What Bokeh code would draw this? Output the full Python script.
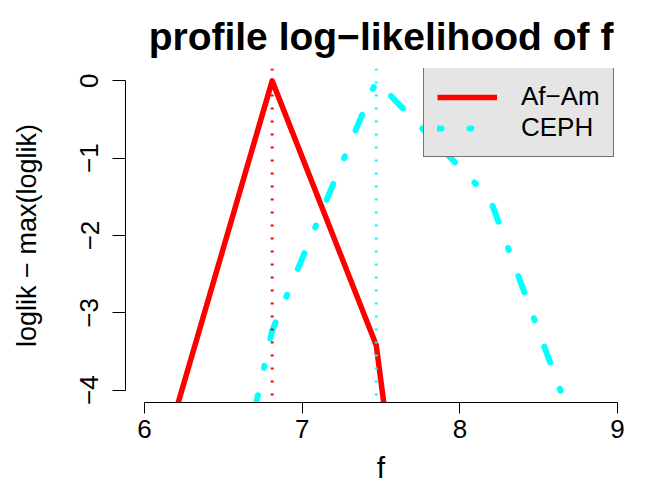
import numpy as np
from bokeh.plotting import figure
from bokeh.models import Range1d, FixedTicker, Span, Legend, LegendItem
from bokeh.embed import file_html
from bokeh.resources import INLINE

# ---- data ----
f_grid = [6.10, 6.81, 7.47, 8.19, 8.90]
afam_ll = [-4.96, 0.0, -3.42, -14.7, -30.0]
ceph_ll = [-9.8, -3.23, 0.0, -1.52, -5.46]
series_names = ["Af\u2212Am", "CEPH"]
x_ticks = [6, 7, 8, 9]
y_ticks = [-4, -3, -2, -1, 0]
y_tick_labels = ["\u22124", "\u22123", "\u22122", "\u22121", "0"]
title_text = "profile log\u2212likelihood of f"

FONT = "Liberation Sans"

p = figure(width=655, height=488, output_backend="svg", toolbar_location=None,
           x_range=Range1d(5.88, 9.12), y_range=Range1d(-4.16, 0.16),
           min_border_left=125, min_border_right=19, min_border_top=68,
           min_border_bottom=86)
p.outline_line_color = None
p.xgrid.visible = False
p.ygrid.visible = False
p.background_fill_color = "white"
p.border_fill_color = "white"

# title
p.title.text = title_text
p.title.text_font = FONT
p.title.text_font_size = "39px"
p.title.text_font_style = "bold"
p.title.align = "center"
p.title.text_color = "black"
p.title.standoff = 21

# axes
for ax in (p.xaxis[0], p.yaxis[0]):
    ax.axis_line_color = "black"
    ax.axis_line_width = 1
    ax.major_tick_line_color = "black"
    ax.major_tick_in = 0
    ax.minor_tick_line_color = None
    ax.major_label_text_font = FONT
    ax.major_label_text_font_size = "26px"
    ax.major_label_text_color = "black"
    ax.axis_label_text_font = FONT
    ax.axis_label_text_font_style = "normal"
    ax.axis_label_text_color = "black"

xa = p.xaxis[0]
xa.ticker = FixedTicker(ticks=x_ticks)
xa.bounds = (x_ticks[0], x_ticks[-1])
xa.major_tick_out = 11
xa.major_label_standoff = 6
xa.axis_label = "f"
xa.axis_label_text_font_size = "30px"
xa.axis_label_standoff = 10

ya = p.yaxis[0]
ya.ticker = FixedTicker(ticks=y_ticks)
ya.bounds = (y_ticks[0], y_ticks[-1])
ya.major_tick_out = 13
ya.major_label_standoff = 14
ya.major_label_orientation = "vertical"
ya.major_label_overrides = {t: s for t, s in zip(y_ticks, y_tick_labels)}
ya.axis_label = "loglik \u2212 max(loglik)"
ya.axis_label_text_font_size = "27px"
ya.axis_label_standoff = 36

# vertical dotted lines at each series maximum
for ll, col in ((afam_ll, "red"), (ceph_ll, "cyan")):
    fmax = f_grid[int(np.argmax(ll))]
    p.add_layout(Span(location=fmax, dimension="height", line_color=col,
                      line_width=3, line_dash="2 11"))

r1 = p.line(f_grid, afam_ll, line_color="red", line_width=5.5, line_join="round")
r2 = p.line(f_grid, ceph_ll, line_color="cyan", line_width=6,
            line_dash="2 28 17 28", line_dash_offset=43,
            line_cap="round", line_join="round")

legend = Legend(items=[LegendItem(label=series_names[0], renderers=[r1]),
                       LegendItem(label=series_names[1], renderers=[r2])],
                location=(298, 245))
legend.background_fill_color = "#e5e5e5"
legend.background_fill_alpha = 1.0
legend.border_line_color = "black"
legend.border_line_width = 1
legend.padding = 13
legend.margin = 0
legend.spacing = 0
legend.glyph_width = 60
legend.glyph_height = 26
legend.label_height = 26
legend.label_standoff = 24
legend.label_text_font = FONT
legend.label_text_font_size = "26px"
legend.label_text_color = "black"
p.add_layout(legend)

open("out.html", "w").write(file_html(p, INLINE))
